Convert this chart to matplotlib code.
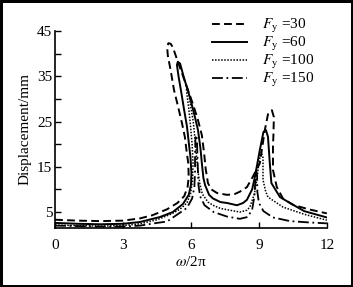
import matplotlib
matplotlib.use("Agg")
import matplotlib.pyplot as plt

plt.rcParams['font.family'] = ['Liberation Serif', 'DejaVu Serif']
plt.rcParams['mathtext.fontset'] = 'stix'

# data (x = omega/2pi, y = displacement in mm)
x_f30 = [0, 1, 2, 3, 3.75, 4.3, 4.94, 5.4, 5.7, 5.85, 5.9, 5.88, 5.8, 5.73, 5.6, 5.43, 5.25, 5.1,
         4.98, 4.95, 5.0, 5.1, 5.2, 5.4, 5.65, 5.9, 6.09, 6.3, 6.48, 6.58, 6.65, 6.75, 6.9, 7.15,
         7.59, 7.9, 8.16, 8.47, 8.72, 9.04, 9.26, 9.4, 9.57, 9.66, 9.64, 9.62, 9.62, 9.79, 10.06,
         10.5, 11.2, 12]
y_f30 = [3.3, 3.1, 3.0, 3.1, 3.6, 4.3, 5.6, 7.0, 8.5, 10.5, 12.7, 15.8, 18.7, 21.6, 24.7, 28.3, 32.0,
         36.4, 39.5, 41.2, 42.3, 42.2, 41.4, 38.5, 35.0, 31.5, 28.8, 25.5, 22.0, 18.0, 14.5, 11.4,
         10.0, 9.2, 8.8, 8.9, 9.5, 10.5, 12.7, 15.8, 23.1, 26.6, 27.5, 26.0, 22.0, 19.4, 14.3, 10.5,
         8.0, 6.6, 5.6, 4.7]

x_f60 = [0, 1, 2, 3, 3.75, 4.63, 5.2, 5.65, 5.9, 6.0, 6.02, 5.98, 5.9, 5.82, 5.7, 5.57, 5.45, 5.38,
         5.42, 5.52, 5.7, 5.95, 6.15, 6.31, 6.42, 6.48, 6.55, 6.62, 6.8, 6.97, 7.3, 7.59, 8.03, 8.3,
         8.47, 8.7, 8.82, 9.04, 9.2, 9.31, 9.4, 9.45, 9.48, 9.55, 9.93, 10.37, 11.0, 12]
y_f60 = [2.6, 2.4, 2.3, 2.4, 2.8, 3.9, 5.0, 6.8, 8.8, 11.0, 13.6, 17.0, 20.5, 24.0, 27.5, 31.5, 35.0,
         37.5, 38.2, 37.8, 34.5, 30.4, 26.5, 23.1, 19.0, 15.8, 12.5, 11.0, 8.8, 8.0, 7.2, 7.0, 6.5,
         7.0, 7.7, 10.0, 12.7, 18.7, 22.7, 23.1, 21.6, 18.0, 15.8, 11.4, 8.3, 7.0, 5.2, 3.8]

x_f100 = [0, 1, 2, 3, 3.75, 4.5, 5.1, 5.51, 5.82, 5.98, 6.07, 6.09, 6.05, 5.98, 5.9, 5.82, 5.8,
          5.85, 5.9, 6.0, 6.1, 6.18, 6.25, 6.31, 6.4, 6.5, 6.75, 6.97, 7.3, 7.72, 8.16, 8.47, 8.6,
          8.8, 8.91, 9.0, 9.1, 9.18, 9.18, 9.18, 9.3, 9.4, 10.06, 11.0, 12]
y_f100 = [2.1, 2.0, 1.9, 2.0, 2.4, 3.3, 4.5, 5.6, 7.0, 9.0, 12.0, 15.8, 20.0, 24.0, 28.0, 31.0, 32.0,
          32.3, 31.3, 28.0, 25.0, 21.0, 17.0, 14.0, 11.0, 9.0, 7.2, 6.5, 5.8, 5.4, 5.0, 5.4, 6.1,
          9.0, 12.1, 16.0, 18.3, 17.0, 15.8, 12.1, 9.5, 8.3, 6.1, 4.5, 3.2]

x_f150 = [0, 1, 2, 3, 3.75, 4.5, 4.94, 5.82, 6.05, 6.15, 6.18, 6.18, 6.2, 6.24, 6.27, 6.3, 6.33,
          6.4, 6.6, 7.0, 7.59, 8.16, 8.5, 8.7, 8.8, 8.85, 8.88, 8.92, 8.93, 9.0, 9.2, 9.62, 10.37,
          11.2, 12]
y_f150 = [2.0, 1.9, 1.8, 1.8, 2.0, 2.6, 2.9, 5.9, 8.0, 10.5, 14.0, 18.0, 21.5, 22.0, 20.0, 15.0,
          11.0, 8.5, 6.5, 5.0, 4.0, 3.5, 3.9, 5.5, 8.5, 12.5, 14.3, 13.0, 9.5, 7.0, 5.2, 3.8, 3.0,
          2.7, 2.5]

labels = [r'$F_{\rm y}$ =30', r'$F_{\rm y}$ =60', r'$F_{\rm y}$ =100', r'$F_{\rm y}$ =150']
x_ticks = [0, 3, 6, 9, 12]
y_major = [5, 15, 25, 35, 45]
y_minor = [10, 20, 30, 40]


def main():
    fig = plt.figure(figsize=(3.53, 2.87), dpi=100, edgecolor='black', linewidth=2.5)
    ax = fig.add_axes([0.156, 0.206, 0.77, 0.686])

    ax.plot(x_f30, y_f30, color='black', lw=1.4, ls=(0, (4, 2.2)), label=labels[0])
    ax.plot(x_f60, y_f60, color='black', lw=1.4, ls='-', label=labels[1])
    ax.plot(x_f100, y_f100, color='black', lw=1.1, ls=(0, (1, 1)), label=labels[2])
    ax.plot(x_f150, y_f150, color='black', lw=1.3, ls=(0, (6, 2, 1, 2)), label=labels[3])

    ax.set_xlim(0, 12)
    ax.set_ylim(1.5, 45)
    ax.set_xticks(x_ticks)
    ax.set_yticks(y_major)
    ax.set_yticks(y_minor, minor=True)
    ax.tick_params(which='both', direction='in', length=4, width=1, labelsize=11)
    ax.tick_params(axis='x', pad=8)
    ax.tick_params(axis='y', pad=2)
    ax.spines['top'].set_visible(False)
    ax.spines['right'].set_visible(False)
    ax.spines['left'].set_linewidth(1.2)
    ax.spines['bottom'].set_linewidth(1.2)

    ax.set_ylabel('Displacement/mm', fontsize=11, labelpad=4)
    ax.set_xlabel(r'$\omega$/2π', fontsize=11, labelpad=2)

    ax.legend(loc='upper right', bbox_to_anchor=(1.005, 1.14), frameon=False, fontsize=11,
              handlelength=2.3, handletextpad=1.0, labelspacing=0.0)

    fig.savefig('out.png', dpi=100)


if __name__ == "__main__":
    main()
